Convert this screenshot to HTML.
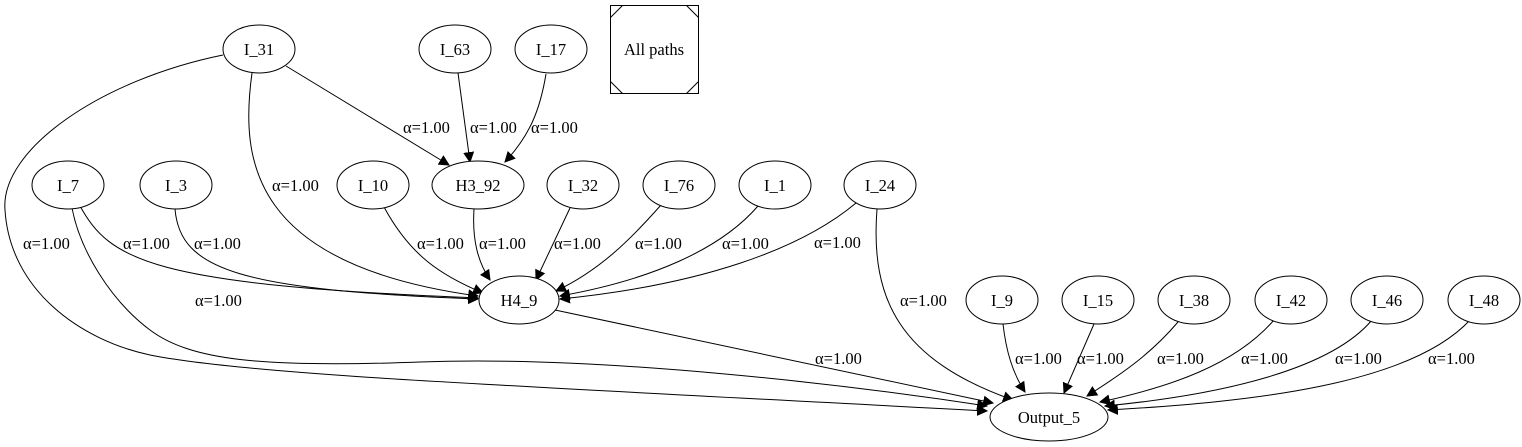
<!DOCTYPE html>
<html><head><meta charset="utf-8"><style>
body{margin:0;background:#fff}
svg{display:block}
text{font-family:"Liberation Serif",serif;font-size:16.5px;fill:#000}
</style></head><body>
<svg width="1522" height="447" viewBox="0 0 1522 447" xmlns="http://www.w3.org/2000/svg">
<defs><marker id="a" viewBox="0 0 10 10" refX="9" refY="5" markerWidth="11" markerHeight="11" markerUnits="userSpaceOnUse" orient="auto"><path d="M0,0L10,5L0,10z" fill="#000"/></marker></defs>
<g fill="none" stroke="#000" stroke-width="1" marker-end="url(#a)">
<path d="M286,66 L449,165"/>
<path d="M458,73 L470,162"/>
<path d="M546,74 C540,110 530,135 505,162"/>
<path d="M252,73 C240,160 250,265 478,296"/>
<path d="M223,55 C100,80 0,150 5,210 C10,290 80,340 150,355 C250,375 500,385 987,411"/>
<path d="M80,206 C110,260 150,285 478,298"/>
<path d="M72,208 C80,250 110,300 150,330 C190,360 260,368 420,362 C600,355 850,385 987,406"/>
<path d="M175,209 C180,270 240,290 478,299"/>
<path d="M384,207 C410,255 440,275 483,293"/>
<path d="M474,209 C472,240 478,262 490,280"/>
<path d="M570,208 L536,280"/>
<path d="M661,205 C630,240 600,270 556,291"/>
<path d="M758,206 C720,250 650,280 560,296"/>
<path d="M856,203 C800,250 700,285 560,299"/>
<path d="M555,310 L993,403"/>
<path d="M877,209 C870,300 900,360 1013,400"/>
<path d="M1003,324 C1006,350 1012,372 1025,392"/>
<path d="M1094,324 L1064,393"/>
<path d="M1178,322 C1150,355 1120,375 1087,396"/>
<path d="M1274,320 C1235,365 1170,387 1100,402"/>
<path d="M1372,320 C1330,370 1220,395 1105,406"/>
<path d="M1470,320 C1410,385 1250,402 1108,410"/>
</g>
<g fill="#fff" stroke="#000" stroke-width="1">
<ellipse cx="259" cy="49" rx="36" ry="24"/>
<ellipse cx="455" cy="49" rx="36" ry="24"/>
<ellipse cx="551" cy="49" rx="36" ry="24"/>
<ellipse cx="68" cy="185" rx="36" ry="24"/>
<ellipse cx="176" cy="185" rx="36" ry="24"/>
<ellipse cx="373" cy="185" rx="36" ry="24"/>
<ellipse cx="478" cy="185" rx="46" ry="24"/>
<ellipse cx="583" cy="185" rx="36" ry="24"/>
<ellipse cx="679" cy="185" rx="36" ry="24"/>
<ellipse cx="775" cy="185" rx="36" ry="24"/>
<ellipse cx="880" cy="185" rx="36" ry="24"/>
<ellipse cx="519" cy="300" rx="40" ry="24"/>
<ellipse cx="1002" cy="300" rx="36" ry="24"/>
<ellipse cx="1098" cy="300" rx="36" ry="24"/>
<ellipse cx="1194" cy="300" rx="36" ry="24"/>
<ellipse cx="1291" cy="300" rx="36" ry="24"/>
<ellipse cx="1387" cy="300" rx="36" ry="24"/>
<ellipse cx="1484" cy="300" rx="36" ry="24"/>
<ellipse cx="1049" cy="417" rx="59" ry="24"/>
<rect x="610.5" y="5.5" width="88" height="88"/>
<path d="M610.5,17.5 L622.5,5.5 M686.5,5.5 L698.5,17.5 M610.5,81.5 L622.5,93.5 M686.5,93.5 L698.5,81.5"/>
</g>
<g text-anchor="middle">
<text x="259" y="55">I_31</text><text x="455" y="55">I_63</text><text x="551" y="55">I_17</text>
<text x="654" y="55">All paths</text>
<text x="68" y="191">I_7</text><text x="176" y="191">I_3</text><text x="373" y="191">I_10</text>
<text x="478" y="191">H3_92</text><text x="583" y="191">I_32</text><text x="679" y="191">I_76</text>
<text x="775" y="191">I_1</text><text x="880" y="191">I_24</text>
<text x="519" y="306">H4_9</text>
<text x="1002" y="306">I_9</text><text x="1098" y="306">I_15</text><text x="1194" y="306">I_38</text>
<text x="1291" y="306">I_42</text><text x="1387" y="306">I_46</text><text x="1484" y="306">I_48</text>
<text x="1049" y="423">Output_5</text>
</g>
<g>
<text x="403" y="133">α=1.00</text><text x="470" y="133">α=1.00</text><text x="531" y="133">α=1.00</text>
<text x="272" y="191">α=1.00</text>
<text x="23" y="249">α=1.00</text><text x="123" y="249">α=1.00</text><text x="194" y="249">α=1.00</text>
<text x="417" y="249">α=1.00</text><text x="479" y="249">α=1.00</text><text x="554" y="249">α=1.00</text>
<text x="635" y="249">α=1.00</text><text x="722" y="249">α=1.00</text><text x="814" y="248">α=1.00</text>
<text x="195" y="306">α=1.00</text><text x="900" y="306">α=1.00</text>
<text x="815" y="364">α=1.00</text><text x="1015" y="364">α=1.00</text><text x="1077" y="364">α=1.00</text>
<text x="1157" y="364">α=1.00</text><text x="1241" y="364">α=1.00</text><text x="1335" y="364">α=1.00</text>
<text x="1428" y="364">α=1.00</text>
</g>
</svg>
</body></html>
